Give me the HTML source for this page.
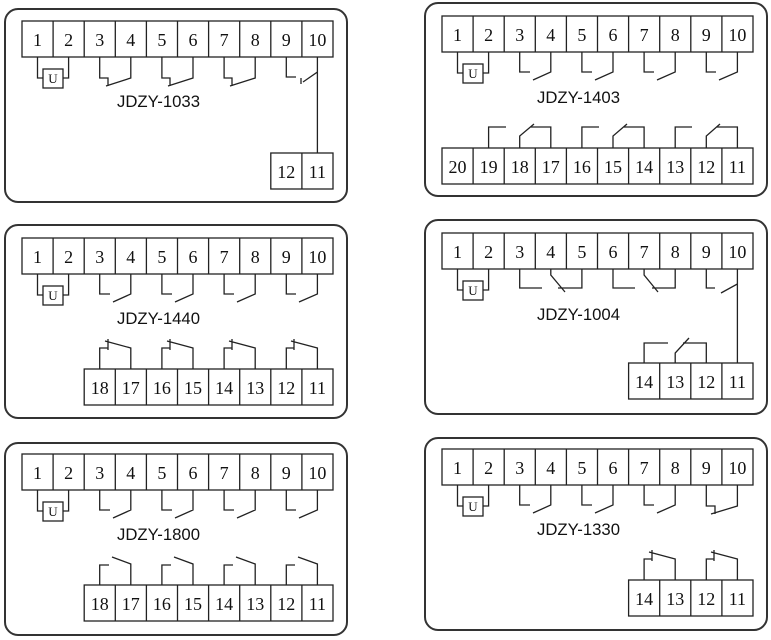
<!DOCTYPE html>
<html><head><meta charset="utf-8"><style>
html,body{margin:0;padding:0;background:#fff;}
svg{display:block;}
.o{fill:none;stroke:#333;stroke-width:2;}
.c{fill:#fff;stroke:#222;stroke-width:1.3;}
.w{fill:none;stroke:#222;stroke-width:1.3;}
.n{font-family:"Liberation Serif",serif;font-size:18px;fill:#111;text-anchor:middle;}
.u{font-family:"Liberation Serif",serif;font-size:13px;fill:#111;text-anchor:middle;}
.t{font-family:"Liberation Sans","DejaVu Sans",sans-serif;font-size:16.5px;fill:#111;}
</style></head><body>
<svg width="771" height="640" viewBox="0 0 771 640" xmlns="http://www.w3.org/2000/svg">
<defs>
<g id="top">
<rect class="c" x="0" y="0" width="311" height="36"/>
<path class="w" d="M31.1 0V36M62.2 0V36M93.3 0V36M124.4 0V36M155.5 0V36M186.6 0V36M217.7 0V36M248.8 0V36M279.9 0V36"/>
<text class="n" x="15.5" y="25">1</text><text class="n" x="46.6" y="25">2</text><text class="n" x="77.7" y="25">3</text><text class="n" x="108.8" y="25">4</text><text class="n" x="139.9" y="25">5</text><text class="n" x="171" y="25">6</text><text class="n" x="202.1" y="25">7</text><text class="n" x="233.2" y="25">8</text><text class="n" x="264.3" y="25">9</text><text class="n" x="295.4" y="25">10</text>
<path class="w" d="M15.5 36V57H21M46.6 36V57H41"/>
<rect class="c" x="21" y="48" width="20" height="19"/>
<text class="u" x="31" y="62">U</text>
</g>
<path id="no4" class="w" d="M77.7 36V56H88M108.8 36V56L91 64M139.9 36V56H150M171 36V56L153 64M202.1 36V56H212M233.2 36V56L215 64M264.3 36V56H274M295.4 36V56L277 64"/>
</defs>

<!-- Panel 1 -->
<g transform="translate(22,21)">
<rect class="o" x="-17" y="-12" width="342" height="193" rx="13"/>
<use href="#top"/>
<path class="w" d="M77.7 36V57H86V65M108.8 36V57L84 65M139.9 36V57H148V65M171 36V57L146 65M202.1 36V57H210V65M233.2 36V57L208 65"/>
<path class="w" d="M264.3 36V56H274M295.4 36V51L281 61M279 57V63M295.4 51V132"/>
<rect class="c" x="248.8" y="132" width="62.2" height="36"/>
<path class="w" d="M279.9 132V168"/>
<text class="n" x="264.3" y="157">12</text><text class="n" x="295.4" y="157">11</text>
<text class="t" x="95" y="86" textLength="83" lengthAdjust="spacingAndGlyphs">JDZY-1033</text>
</g>

<!-- Panel 2 -->
<g transform="translate(442,16)">
<rect class="o" x="-17" y="-13" width="342" height="193" rx="13"/>
<use href="#top"/>
<use href="#no4"/>
<text class="t" x="95" y="87" textLength="83" lengthAdjust="spacingAndGlyphs">JDZY-1403</text>
<rect class="c" x="0" y="132" width="311" height="36"/>
<path class="w" d="M31.1 132V168M62.2 132V168M93.3 132V168M124.4 132V168M155.5 132V168M186.6 132V168M217.7 132V168M248.8 132V168M279.9 132V168"/>
<text class="n" x="15.5" y="157">20</text><text class="n" x="46.6" y="157">19</text><text class="n" x="77.7" y="157">18</text><text class="n" x="108.8" y="157">17</text><text class="n" x="139.9" y="157">16</text><text class="n" x="171" y="157">15</text><text class="n" x="202.1" y="157">14</text><text class="n" x="233.2" y="157">13</text><text class="n" x="264.3" y="157">12</text><text class="n" x="295.4" y="157">11</text>
<path class="w" d="M46.6 132V111H64M77.7 132V120L92 108M108.8 132V111H89M139.9 132V111H157M171 132V120L185 108M202.1 132V111H182M233.2 132V111H250M264.3 132V120L278 108M295.4 132V111H275"/>
</g>

<!-- Panel 3 -->
<g transform="translate(22,238)">
<rect class="o" x="-17" y="-13" width="342" height="193" rx="13"/>
<use href="#top"/>
<use href="#no4"/>
<text class="t" x="95" y="86" textLength="83" lengthAdjust="spacingAndGlyphs">JDZY-1440</text>
<rect class="c" x="62.2" y="131" width="248.8" height="36"/>
<path class="w" d="M93.3 131V167M124.4 131V167M155.5 131V167M186.6 131V167M217.7 131V167M248.8 131V167M279.9 131V167"/>
<text class="n" x="77.7" y="156">18</text><text class="n" x="108.8" y="156">17</text><text class="n" x="139.9" y="156">16</text><text class="n" x="171" y="156">15</text><text class="n" x="202.1" y="156">14</text><text class="n" x="233.2" y="156">13</text><text class="n" x="264.3" y="156">12</text><text class="n" x="295.4" y="156">11</text>
<path class="w" d="M77.7 131V110H86M86 112V101M83 103L108.8 110V131M139.9 131V110H148M148 112V101M145 103L171 110V131M202.1 131V110H210M210 112V101M207 103L233.2 110V131M264.3 131V110H272M272 112V101M269 103L295.4 110V131"/>
</g>

<!-- Panel 4 -->
<g transform="translate(442,233)">
<rect class="o" x="-17" y="-13" width="342" height="194" rx="13"/>
<use href="#top"/>
<path class="w" d="M77.7 36V55H100M108.8 36V42L123 59M139.9 36V55H116M171 36V55H193M202.1 36V42L216 59M233.2 36V55H210M264.3 36V55H273M295.4 36V51L279 60M295.4 51V130"/>
<text class="t" x="95" y="87" textLength="83" lengthAdjust="spacingAndGlyphs">JDZY-1004</text>
<rect class="c" x="186.6" y="130" width="124.4" height="36"/>
<path class="w" d="M217.7 130V166M248.8 130V166M279.9 130V166"/>
<text class="n" x="202.1" y="155">14</text><text class="n" x="233.2" y="155">13</text><text class="n" x="264.3" y="155">12</text><text class="n" x="295.4" y="155">11</text>
<path class="w" d="M202.1 130V110H226M233.2 130V120L247 105M264.3 130V110H241"/>
</g>

<!-- Panel 5 -->
<g transform="translate(22,454)">
<rect class="o" x="-17" y="-11" width="342" height="192" rx="13"/>
<use href="#top"/>
<use href="#no4"/>
<text class="t" x="95" y="86" textLength="83" lengthAdjust="spacingAndGlyphs">JDZY-1800</text>
<rect class="c" x="62.2" y="131" width="248.8" height="36"/>
<path class="w" d="M93.3 131V167M124.4 131V167M155.5 131V167M186.6 131V167M217.7 131V167M248.8 131V167M279.9 131V167"/>
<text class="n" x="77.7" y="156">18</text><text class="n" x="108.8" y="156">17</text><text class="n" x="139.9" y="156">16</text><text class="n" x="171" y="156">15</text><text class="n" x="202.1" y="156">14</text><text class="n" x="233.2" y="156">13</text><text class="n" x="264.3" y="156">12</text><text class="n" x="295.4" y="156">11</text>
<path class="w" d="M77.7 131V111H87M90 103L108.8 110V131M139.9 131V111H149M152 103L171 110V131M202.1 131V111H211M214 103L233.2 110V131M264.3 131V111H273M276 103L295.4 110V131"/>
</g>

<!-- Panel 6 -->
<g transform="translate(442,449)">
<rect class="o" x="-17" y="-11" width="342" height="192" rx="13"/>
<use href="#top"/>
<path class="w" d="M77.7 36V56H88M108.8 36V56L91 64M139.9 36V56H150M171 36V56L153 64M202.1 36V56H212M233.2 36V56L215 64"/>
<path class="w" d="M264.3 36V57H273V65M295.4 36V57L269 65"/>
<text class="t" x="95" y="86" textLength="83" lengthAdjust="spacingAndGlyphs">JDZY-1330</text>
<rect class="c" x="186.6" y="131" width="124.4" height="36"/>
<path class="w" d="M217.7 131V167M248.8 131V167M279.9 131V167"/>
<text class="n" x="202.1" y="156">14</text><text class="n" x="233.2" y="156">13</text><text class="n" x="264.3" y="156">12</text><text class="n" x="295.4" y="156">11</text>
<path class="w" d="M202.1 131V110H210M210 112V101M207 103L233.2 110V131M264.3 131V110H272M272 112V101M269 103L295.4 110V131"/>
</g>
</svg>
</body></html>
